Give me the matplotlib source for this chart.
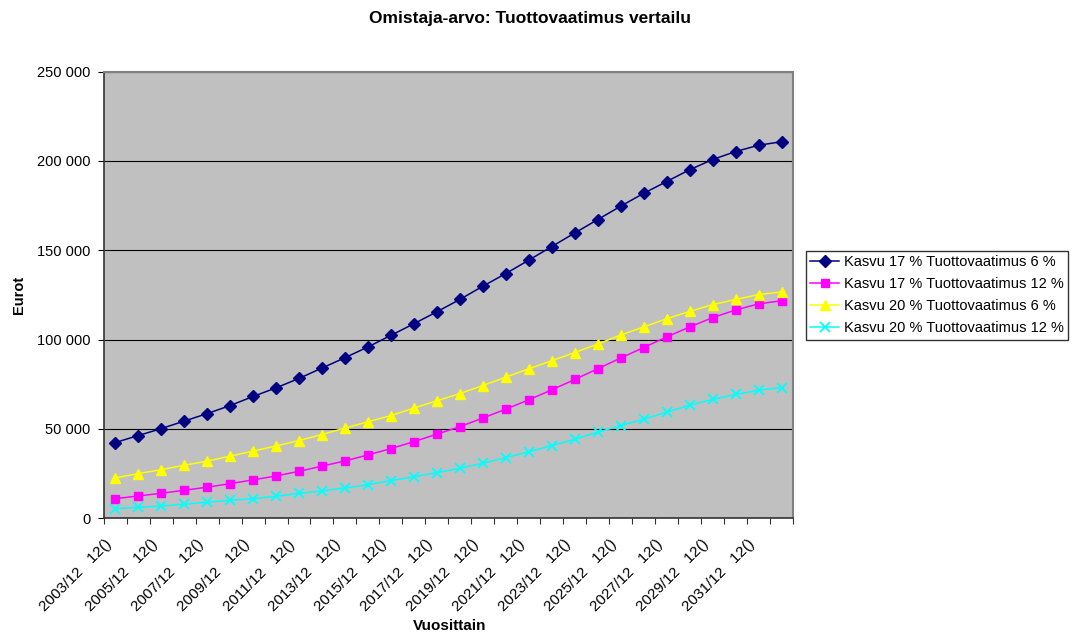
import numpy as np
import matplotlib
matplotlib.use('Agg')
import matplotlib.pyplot as plt
from matplotlib.ticker import FuncFormatter
from matplotlib.transforms import ScaledTranslation

plt.rcParams['font.family'] = ['Liberation Sans', 'DejaVu Sans']

# Omistaja-arvo eri kasvu- ja tuottovaatimusoletuksilla (euroa)
kasvu17_tv6 = [42400, 46300, 50200, 54400, 58600, 63100, 68200, 73000, 78300, 84100,
               89900, 95900, 102400, 108900, 115600, 122500, 129900, 137000, 144500, 152100,
               159700, 167200, 174700, 181900, 188500, 195100, 200800, 205300, 208800, 210800]
kasvu17_tv12 = [11000, 12500, 14000, 15700, 17400, 19400, 21500, 23700, 26300, 29200,
                32100, 35500, 39000, 42900, 47100, 51300, 56100, 61100, 66300, 71900,
                77700, 83700, 89700, 95600, 101500, 107100, 112300, 116600, 120000, 121800]
kasvu20_tv6 = [22600, 25000, 27200, 29700, 32000, 34800, 37600, 40500, 43500, 46900,
               50500, 54000, 57500, 61700, 65800, 69800, 74300, 79000, 83700, 88200,
               92800, 97500, 102600, 107100, 111700, 115800, 119600, 122500, 125200, 126700]
kasvu20_tv12 = [5400, 6200, 6900, 7900, 9000, 10100, 11000, 12300, 14000, 15300,
                17000, 18800, 21100, 23200, 25600, 28000, 30800, 34000, 37200, 40700,
                44300, 48200, 51900, 55500, 59400, 63300, 66500, 69300, 71700, 73200]

sarjat = ['Kasvu 17 % Tuottovaatimus 6 %', 'Kasvu 17 % Tuottovaatimus 12 %',
          'Kasvu 20 % Tuottovaatimus 6 %', 'Kasvu 20 % Tuottovaatimus 12 %']

vuosi_labels = ['2003/12   12()', '2005/12   12()', '2007/12   12()', '2009/12   12()',
                '2011/12   12()', '2013/12   12()', '2015/12   12()', '2017/12   12()',
                '2019/12   12()', '2021/12   12()', '2023/12   12()', '2025/12   12()',
                '2027/12   12()', '2029/12   12()', '2031/12   12()']

n = len(kasvu17_tv6)
x = np.arange(1, n + 1)

fig = plt.figure(figsize=(10.77, 6.32), dpi=100)
ax = fig.add_axes([0.0963, 0.1799, 0.64, 0.7067])
ax.set_facecolor('#C0C0C0')

tyylit = [
    dict(color='#000080', marker='D', ms=5.8),
    dict(color='#FF00FF', marker='s', ms=5.8),
    dict(color='#FFFF00', marker='^', ms=6.8),
    dict(color='#00FFFF', marker='x', ms=6.8, mew=1.3),
]
for arvot, nimi, st in zip([kasvu17_tv6, kasvu17_tv12, kasvu20_tv6, kasvu20_tv12], sarjat, tyylit):
    ax.plot(x, arvot, lw=1.1, label=nimi, **st)

ax.set_xlim(0.5, n + 0.5)
ax.set_ylim(0, 250000)
ax.set_yticks(np.arange(0, 250001, 50000))
ax.yaxis.set_major_formatter(FuncFormatter(lambda v, p: f'{int(v):,}'.replace(',', ' ')))
ax.grid(axis='y', color='black', lw=0.8)
ax.set_axisbelow(True)

# luokkien rajat tikkeinä, nimet joka toisen luokan kohdalle
ax.set_xticks(np.arange(0.5, n + 1, 1.0))
ax.set_xticklabels([])
ax.set_xticks(x[::2], minor=True)
ax.set_xticklabels(vuosi_labels, minor=True)
ax.tick_params(axis='x', which='major', length=4, direction='out', color='#333333')
ax.tick_params(axis='x', which='minor', length=0, pad=17, labelsize=11)
ax.tick_params(axis='y', length=4, direction='out', pad=5.5, labelsize=10.5)
siirto = ScaledTranslation(-6 / 100, 0, fig.dpi_scale_trans)
for lbl in ax.get_xticklabels(minor=True):
    lbl.set_rotation(45)
    lbl.set_ha('right')
    lbl.set_va('center')
    lbl.set_rotation_mode('anchor')
    lbl.set_transform(lbl.get_transform() + siirto)

for s in ['left', 'bottom']:
    ax.spines[s].set_color('#333333')
    ax.spines[s].set_linewidth(1.2)
for s in ['top', 'right']:
    ax.spines[s].set_color('#808080')
    ax.spines[s].set_linewidth(1.5)

ax.set_ylabel('Eurot', fontsize=10.5, fontweight='bold')
ax.yaxis.set_label_coords(-0.113, 0.5)
ax.set_xlabel('Vuosittain', fontsize=11, fontweight='bold')
ax.xaxis.set_label_coords(0.502, -0.225)

fig.text(0.492, 1 - 19 / 632, 'Omistaja-arvo: Tuottovaatimus vertailu',
         ha='center', va='center', fontsize=12.5, fontweight='bold')

leg = fig.legend(loc='center left', bbox_to_anchor=(0.748, 0.533), fontsize=10.5,
                 frameon=True, fancybox=False, edgecolor='black', handlelength=2.0,
                 handletextpad=0.3, labelspacing=0.55, borderpad=0.3, borderaxespad=0)
leg.get_frame().set_linewidth(1.0)

fig.savefig('out.png', dpi=100)
